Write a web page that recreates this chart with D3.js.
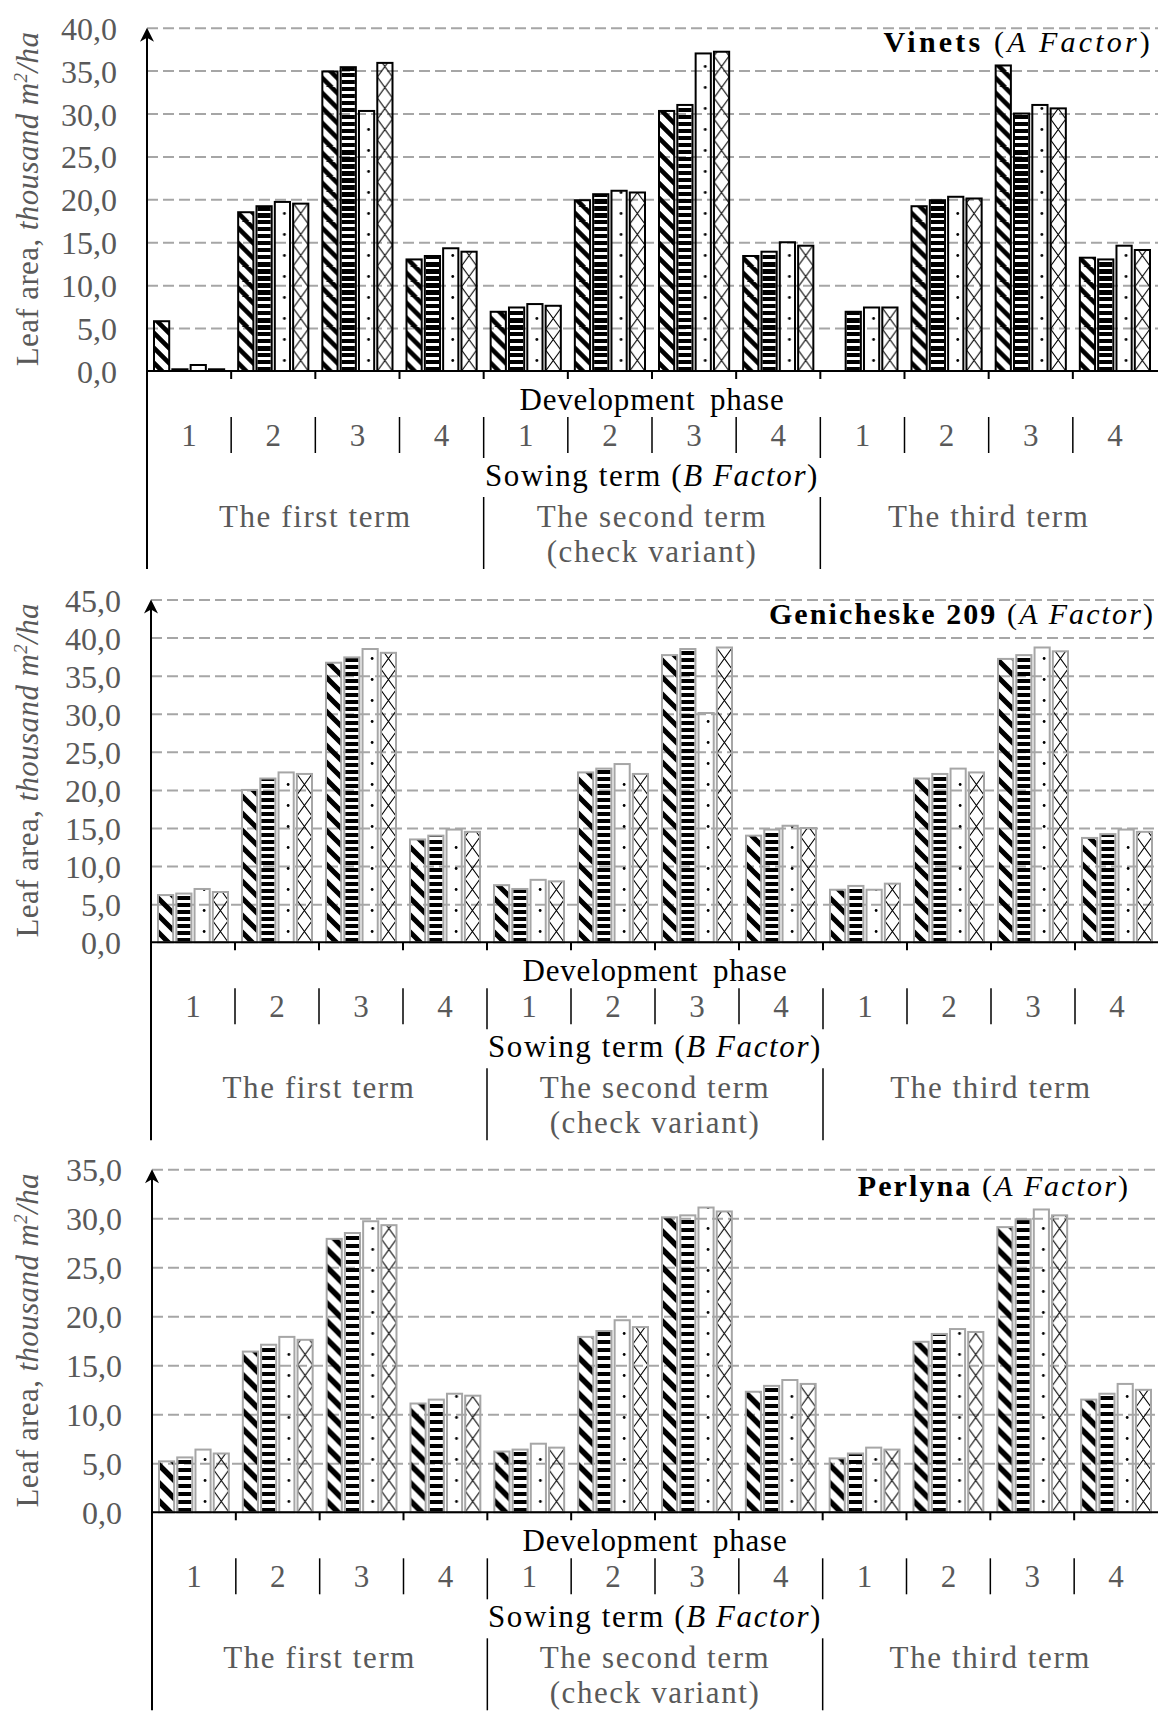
<!DOCTYPE html>
<html>
<head>
<meta charset="utf-8">
<script src="https://cdn.jsdelivr.net/npm/d3@7"></script>
<style>
  body { margin: 0; background: #fff; }
  svg text { font-family: "Liberation Serif", "Times New Roman", serif; }
</style>
</head>
<body>
<div id="chart"></div>
<script>
// categories
const terms = ["The first term", "The second term", "The third term"];
const phases = ["1", "2", "3", "4"];
const variants = ["v1", "v2", "v3", "v4"];

// leaf area, thousand m2/ha: one row per term x phase, one value per variant
const vinetsValues = [
  [5.8, 0.2, 0.7, 0.2], [18.5, 19.2, 19.7, 19.5], [34.9, 35.4, 30.3, 35.9], [13.0, 13.4, 14.3, 13.9],
  [6.9, 7.4, 7.8, 7.6], [19.9, 20.6, 21.0, 20.8], [30.3, 31.0, 37.0, 37.2], [13.4, 13.9, 15.0, 14.6],
  [0, 6.9, 7.4, 7.4], [19.2, 19.9, 20.3, 20.1], [35.6, 30.0, 31.0, 30.6], [13.2, 13.0, 14.6, 14.1]
];
const genicheskeValues = [
  [6.2, 6.4, 7.0, 6.6], [20.0, 21.5, 22.3, 22.1], [36.7, 37.4, 38.5, 38.0], [13.5, 14.0, 14.8, 14.5],
  [7.5, 7.0, 8.2, 8.0], [22.3, 22.8, 23.4, 22.1], [37.7, 38.5, 30.1, 38.7], [14.0, 14.8, 15.3, 15.0],
  [6.9, 7.4, 6.9, 7.7], [21.5, 22.1, 22.8, 22.3], [37.2, 37.7, 38.7, 38.2], [13.7, 14.2, 14.8, 14.5]
];
const perlynaValues = [
  [5.2, 5.6, 6.4, 6.0], [16.4, 17.1, 17.9, 17.6], [27.9, 28.5, 29.7, 29.3], [11.1, 11.5, 12.1, 11.9],
  [6.2, 6.4, 7.0, 6.6], [17.9, 18.5, 19.6, 18.9], [30.1, 30.3, 31.1, 30.7], [12.3, 12.9, 13.5, 13.1],
  [5.5, 6.0, 6.6, 6.4], [17.4, 18.2, 18.7, 18.4], [29.1, 29.9, 30.9, 30.3], [11.5, 12.1, 13.1, 12.5]
];

// tick labels
const vinetsTicks = [0, 5, 10, 15, 20, 25, 30, 35, 40];
const genicheskeTicks = [0, 5, 10, 15, 20, 25, 30, 35, 40, 45];
const perlynaTicks = [0, 5, 10, 15, 20, 25, 30, 35];

const W = 1158, H = 1712;
const gray = "#595959";
const fs = 31;
const ls = 1.6; // the labels are set a little loose

const groups = [];
terms.forEach((t, ti) => phases.forEach((p, pi) => groups.push({ key: ti * 4 + pi, term: ti, phase: p })));

const svg = d3.select("#chart").append("svg")
  .attr("width", W).attr("height", H);
const defs = svg.append("defs");

const fmt = d => d3.format(".1f")(d).replace(".", ",");

function makePatterns(id, k, bw, xs, y0) {
  const y0r = Math.round(y0);
  // thick "\" stripes
  const d = Math.round(15 * k);
  defs.append("pattern").attr("id", id + "p1").attr("patternUnits", "userSpaceOnUse")
    .attr("y", y0r).attr("width", d).attr("height", d)
    .append("path")
      .attr("d", `M${-d * 0.25},${-d * 0.25}L${d * 1.25},${d * 1.25}M${-d * 0.25},${d * 0.75}L${d * 0.25},${d * 1.25}M${d * 0.75},${-d * 0.25}L${d * 1.25},${d * 0.25}`)
      .attr("stroke", "#000").attr("stroke-width", 4.6 * k);
  // horizontal bands
  const ph = Math.round(6.6 * k);
  const hp = defs.append("pattern").attr("id", id + "p2").attr("patternUnits", "userSpaceOnUse")
    .attr("y", y0r).attr("width", 10).attr("height", ph);
  hp.append("rect").attr("y", ph - Math.round(ph * 0.55)).attr("width", 10).attr("height", Math.round(ph * 0.55)).attr("fill", "#000");
  // sparse dots
  const s = 21;
  defs.append("pattern").attr("id", id + "p3").attr("patternUnits", "userSpaceOnUse")
    .attr("y", y0r).attr("width", bw).attr("height", s)
    .append("circle").attr("cx", xs("v3") + xs.bandwidth() / 2 + 2).attr("cy", s / 2).attr("r", 1.4).attr("fill", "#000");
  // thin cross hatch
  const x4 = xs("v4"), w4 = xs.bandwidth();
  defs.append("pattern").attr("id", id + "p4").attr("patternUnits", "userSpaceOnUse")
    .attr("y", y0r).attr("width", bw).attr("height", s)
    .append("path")
      .attr("d", `M${x4},0L${x4 + w4},${s}M${x4 + w4},0L${x4},${s}`)
      .attr("stroke", "#000").attr("stroke-width", 1.1).attr("fill", "none");
}

function drawChart(cfg) {
  const g = svg.append("g");
  const x = d3.scaleBand().domain(groups.map(d => d.key)).range([cfg.left, cfg.right]);
  const xs = d3.scaleBand().domain(variants).range([7, x.bandwidth() - 7]).paddingInner(0.17);
  const y = d3.scaleLinear().domain([0, d3.max(cfg.ticks)]).range([cfg.y0, cfg.yTop]);

  makePatterns(cfg.id, cfg.k, x.bandwidth(), xs, cfg.y0);

  // y axis with dashed gridlines
  const ga = g.append("g").attr("transform", `translate(${cfg.left},0)`)
    .call(d3.axisLeft(y).tickValues(cfg.ticks).tickFormat(fmt)
      .tickSize(-(W - cfg.left)).tickPadding(30));
  ga.select(".domain").remove();
  ga.selectAll(".tick line")
    .attr("stroke", "#a6a6a6").attr("stroke-width", 2).attr("stroke-dasharray", "11,5")
    .filter(d => d === 0).remove();
  ga.selectAll(".tick text").attr("font-size", 32).attr("fill", gray).attr("dy", "0.36em");

  // bars
  const inset = { v1: 0, v2: 1, v3: 0, v4: 0 };
  const grp = g.append("g").selectAll("g")
    .data(cfg.values.map((v, i) => ({ key: i, vals: v })))
    .join("g")
      .attr("transform", d => `translate(${x(d.key)},0)`);
  const bar = grp.selectAll("g")
    .data(d => d.vals.map((v, j) => ({ v, s: variants[j] })).filter(b => b.v > 0))
    .join("g");
  bar.append("rect")
    .attr("x", b => xs(b.s) + inset[b.s])
    .attr("width", b => xs.bandwidth() - 2 * inset[b.s])
    .attr("y", b => y(b.v))
    .attr("height", b => y(0) - y(b.v))
    .attr("fill", b => `url(#${cfg.id}p${variants.indexOf(b.s) + 1})`);
  bar.append("rect")
    .attr("x", b => xs(b.s))
    .attr("width", xs.bandwidth())
    .attr("y", b => y(b.v))
    .attr("height", b => y(0) - y(b.v))
    .attr("fill", "none").attr("stroke", cfg.barStroke).attr("stroke-width", 2);

  // x axis line and group ticks
  g.append("line").attr("x1", cfg.left).attr("x2", W).attr("y1", cfg.y0).attr("y2", cfg.y0)
    .attr("stroke", "#000").attr("stroke-width", 2);
  g.append("g").selectAll("line").data(groups.slice(1)).join("line")
    .attr("x1", d => x(d.key)).attr("x2", d => x(d.key))
    .attr("y1", cfg.y0).attr("y2", cfg.y0 + 8)
    .attr("stroke", "#000").attr("stroke-width", 2);

  // vertical axis with arrow
  g.append("line").attr("x1", cfg.left).attr("x2", cfg.left)
    .attr("y1", cfg.yTop + 4).attr("y2", Math.min(cfg.y0 + 198, H))
    .attr("stroke", "#000").attr("stroke-width", 2);
  g.append("path")
    .attr("d", `M${cfg.left},${cfg.yTop}L${cfg.left - 7},${cfg.yTop + 14}L${cfg.left},${cfg.yTop + 10}L${cfg.left + 7},${cfg.yTop + 14}Z`)
    .attr("fill", "#000");

  const midX = (cfg.left + cfg.right) / 2;

  // category labels below the axis
  g.append("text").attr("x", midX).attr("y", cfg.y0 + 39).attr("text-anchor", "middle")
    .attr("font-size", fs).attr("fill", "#000").attr("word-spacing", 6).attr("letter-spacing", 0.8)
    .text("Development phase");

  g.append("g").selectAll("text").data(groups).join("text")
    .attr("x", d => x(d.key) + x.bandwidth() / 2).attr("y", cfg.y0 + 75)
    .attr("text-anchor", "middle").attr("font-size", fs).attr("fill", gray)
    .text(d => d.phase);

  g.append("g").selectAll("line").data(groups.slice(1)).join("line")
    .attr("x1", d => x(d.key)).attr("x2", d => x(d.key))
    .attr("y1", cfg.y0 + 46).attr("y2", d => cfg.y0 + (d.key % 4 === 0 ? 87 : 82))
    .attr("stroke", "#000").attr("stroke-width", 1.5);

  const sow = g.append("text").attr("x", midX).attr("y", cfg.y0 + 115).attr("text-anchor", "middle")
    .attr("font-size", fs).attr("fill", "#000").attr("letter-spacing", ls);
  sow.append("tspan").text("Sowing term (");
  sow.append("tspan").attr("font-style", "italic").text("B Factor");
  sow.append("tspan").text(")");

  terms.forEach((t, ti) => {
    const cx = (x(ti * 4) + x(ti * 4 + 3) + x.bandwidth()) / 2;
    g.append("text").attr("x", cx).attr("y", cfg.y0 + 156).attr("text-anchor", "middle")
      .attr("font-size", fs).attr("fill", gray).attr("letter-spacing", ls).text(t);
    if (ti === 1) {
      g.append("text").attr("x", cx).attr("y", cfg.y0 + 191).attr("text-anchor", "middle")
        .attr("font-size", fs).attr("fill", gray).attr("letter-spacing", ls).text("(check variant)");
    }
  });

  g.append("g").selectAll("line").data([4, 8]).join("line")
    .attr("x1", d => x(d)).attr("x2", d => x(d))
    .attr("y1", cfg.y0 + 126).attr("y2", Math.min(cfg.y0 + 198, H))
    .attr("stroke", "#000").attr("stroke-width", 1.5);

  // title
  const tt = g.append("text").attr("x", cfg.titleX).attr("y", cfg.yTop + cfg.titleDy)
    .attr("text-anchor", "end").attr("font-size", 30).attr("fill", "#000")
    .attr("letter-spacing", cfg.titleLs);
  tt.append("tspan").attr("font-weight", "bold").text(cfg.name);
  tt.append("tspan").text(" (");
  tt.append("tspan").attr("font-style", "italic").text("A Factor");
  tt.append("tspan").text(")");

  // y axis title
  const cy = cfg.y0 - 172;
  const yt = g.append("text").attr("transform", `translate(27,${cy}) rotate(-90)`)
    .attr("text-anchor", "middle").attr("dy", "0.35em")
    .attr("font-size", fs).attr("fill", gray).attr("letter-spacing", 0.4);
  yt.append("tspan").text("Leaf area, ");
  yt.append("tspan").attr("font-style", "italic").text("thousand m");
  yt.append("tspan").attr("font-style", "italic").attr("font-size", 19).attr("dy", -11).text("2");
  yt.append("tspan").attr("font-style", "italic").attr("dy", 11).text("/ha");
}

drawChart({ id: "a", name: "Vinets", values: vinetsValues, ticks: vinetsTicks,
  left: 147, right: 1157, y0: 371, yTop: 27.7, barStroke: "#000", k: 1, titleX: 1153, titleDy: 24, titleLs: 3.2 });
drawChart({ id: "b", name: "Genicheske 209", values: genicheskeValues, ticks: genicheskeTicks,
  left: 151, right: 1159, y0: 942.3, yTop: 599.5, barStroke: "#a6a6a6", k: 1.1, titleX: 1155, titleDy: 24, titleLs: 2.1 });
drawChart({ id: "c", name: "Perlyna", values: perlynaValues, ticks: perlynaTicks,
  left: 152, right: 1158, y0: 1512.3, yTop: 1169.3, barStroke: "#a6a6a6", k: 1.2, titleX: 1130, titleDy: 27, titleLs: 2.1 });
</script>
</body>
</html>
